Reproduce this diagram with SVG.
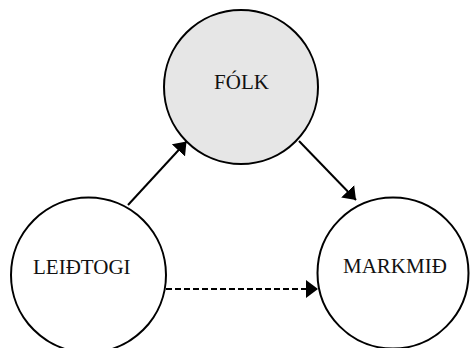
<svg xmlns="http://www.w3.org/2000/svg" width="470" height="348" viewBox="0 0 470 348">
<style>
.node{stroke:#000;stroke-width:2}
.lbl{font-family:"Liberation Serif","Times New Roman",serif;font-size:21px;fill:#111}
.conn{stroke:#000;stroke-width:2;fill:none}
.dash{stroke-dasharray:6,3}
</style>
<defs>
<marker id="ah" viewBox="0 0 12 18" refX="12" refY="9" markerWidth="12" markerHeight="18" markerUnits="userSpaceOnUse" orient="auto">
<path d="M0,0 L12,9 L0,18 Z" fill="#000"/>
</marker>
</defs>
<rect width="470" height="348" fill="#fff"/>
<g id="folk">
<circle class="node" cx="241" cy="87" r="77" fill="#e6e6e6"/>
<text class="lbl" x="241.5" y="89" text-anchor="middle">FÓLK</text>
</g>
<g id="leidtogi">
<circle class="node" cx="88.5" cy="275" r="77.5" fill="#fff"/>
<text class="lbl" x="33" y="274">LEIÐTOGI</text>
</g>
<g id="markmid">
<circle class="node" cx="393" cy="273" r="75.5" fill="#fff"/>
<text class="lbl" x="343" y="273">MARKMIÐ</text>
</g>
<g id="connectors">
<line class="conn" x1="128" y1="205" x2="186.5" y2="141.5" marker-end="url(#ah)"/>
<line class="conn" x1="299" y1="141" x2="356" y2="200" marker-end="url(#ah)"/>
<line class="conn dash" x1="166" y1="289" x2="318" y2="289" marker-end="url(#ah)"/>
</g>
</svg>
